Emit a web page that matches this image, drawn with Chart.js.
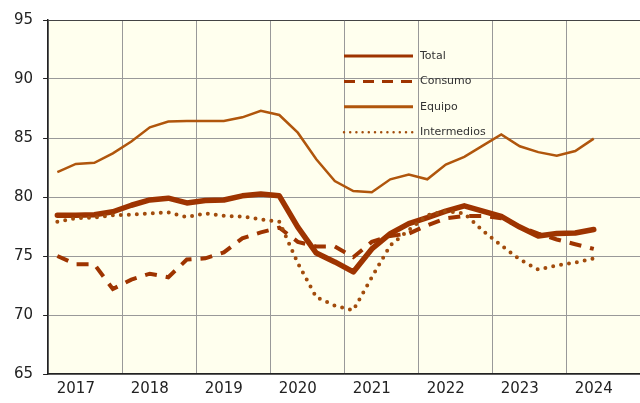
<!DOCTYPE html>
<html>
<head>
<meta charset="utf-8">
<script src="https://cdn.jsdelivr.net/npm/chart.js@4"></script>
<style>
  body { margin: 0; background: #fff; }
  #wrap { width: 640px; height: 403px; }
</style>
</head>
<body>
<div id="wrap"><canvas id="grafico"></canvas></div>
<script>
// quarters 2017-I .. 2024-IV, data runs to 2024-II
var years = ["2017", "2018", "2019", "2020", "2021", "2022", "2023", "2024"];
var quarters = [];
years.forEach(function (y) { ["I", "II", "III", "IV"].forEach(function (q) { quarters.push(y + "-" + q); }); });

var total = [78.45, 78.45, 78.5, 78.75, 79.3, 79.75, 79.9, 79.5, 79.7, 79.75, 80.1, 80.25, 80.1, 77.45, 75.25,
  74.5, 73.65, 75.6, 76.9, 77.75, 78.25, 78.8, 79.25, 78.8, 78.35, 77.45, 76.7, 76.9, 76.95, 77.25];
var consumo = [75.0, 74.3, 74.3, 72.2, 73.0, 73.5, 73.2, 74.7, 74.8, 75.3, 76.5, 77.0, 77.4, 76.2, 75.8,
  75.8, 74.9, 76.2, 76.7, 76.9, 77.6, 78.2, 78.4, 78.4, 78.2, 77.5, 76.9, 76.4, 76.0, 75.6];
var equipo = [82.1, 82.8, 82.9, 83.7, 84.7, 85.9, 86.4, 86.45, 86.45, 86.45, 86.75, 87.3, 86.95, 85.45, 83.2,
  81.35, 80.5, 80.4, 81.5, 81.9, 81.5, 82.75, 83.4, 84.35, 85.3, 84.3, 83.8, 83.5, 83.9, 84.95];
var intermedios = [77.9, 78.2, 78.25, 78.45, 78.5, 78.6, 78.7, 78.3, 78.6, 78.4, 78.35, 78.1, 77.9, 74.4, 71.5,
  70.8, 70.4, 73.2, 75.9, 77.2, 78.45, 78.8, 78.6, 77.15, 75.9, 74.7, 73.85, 74.2, 74.45, 74.8];

var rojo = "#9e3400";
var naranja = "#b0560c";
var marron = "#a24c0c";

// ivory plot background
var fondo = {
  id: "fondo",
  beforeDraw: function (chart) {
    var a = chart.chartArea, ctx = chart.ctx;
    ctx.save();
    ctx.fillStyle = "#ffffee";
    ctx.fillRect(a.left, a.top, a.right - a.left, a.bottom - a.top);
    ctx.restore();
  }
};

// legend drawn by hand, stacked inside the plot
var leyenda = {
  id: "leyenda",
  afterDatasetsDraw: function (chart) {
    var ctx = chart.ctx;
    var items = [
      { t: "Total", c: rojo, w: 3, d: [] },
      { t: "Consumo", c: rojo, w: 3, d: [11, 8] },
      { t: "Equipo", c: naranja, w: 3, d: [] },
      { t: "Intermedios", c: marron, w: 2.5, d: [0, 6.2] }
    ];
    ctx.save();
    items.forEach(function (it, i) {
      var y = 56 + i * 25.4;
      ctx.beginPath();
      ctx.strokeStyle = it.c;
      ctx.lineWidth = it.w;
      ctx.setLineDash(it.d);
      ctx.lineCap = it.d.length && it.d[0] === 0 ? "round" : "butt";
      ctx.moveTo(344, y);
      ctx.lineTo(413, y);
      ctx.stroke();
      ctx.setLineDash([]);
      ctx.fillStyle = "#333";
      ctx.font = "11px 'DejaVu Sans'";
      ctx.textBaseline = "middle";
      ctx.fillText(it.t, 420, y);
    });
    ctx.restore();
  }
};

new Chart(document.getElementById("grafico"), {
  type: "line",
  data: {
    labels: quarters,
    datasets: [
      { label: "Intermedios", data: intermedios, borderColor: marron, borderWidth: 4,
        borderDash: [0, 8], borderCapStyle: "round", pointRadius: 0, tension: 0 },
      { label: "Equipo", data: equipo, borderColor: naranja, borderWidth: 2.5, pointRadius: 0, tension: 0 },
      { label: "Consumo", data: consumo, borderColor: rojo, borderWidth: 4,
        borderDash: [12, 9], pointRadius: 0, tension: 0 },
      { label: "Total", data: total, borderColor: rojo, borderWidth: 5.5, borderJoinStyle: "round",
        borderCapStyle: "round", pointRadius: 0, tension: 0 }
    ]
  },
  options: {
    responsive: true,
    maintainAspectRatio: false,
    animation: false,
    layout: { padding: { top: 20, right: 0, left: 4, bottom: -2 } },
    plugins: { legend: { display: false }, tooltip: { enabled: false } },
    scales: {
      x: {
        offset: true,
        grid: {
          offset: true,
          drawTicks: false,
          color: function (c) { return c.index % 4 === 0 ? "#999" : "rgba(0,0,0,0)"; }
        },
        border: { color: "#222", width: 1.5 },
        ticks: {
          autoSkip: false, maxRotation: 0, padding: 8,
          color: "#222", font: { family: "DejaVu Sans", size: 15, lineHeight: 1 },
          callback: function (v, i) { return i % 4 === 1 ? quarters[i].slice(0, 4) : ""; }
        }
      },
      y: {
        min: 65, max: 95,
        grid: {
          color: function (c) { return c.tick && c.tick.value === 95 ? "#444" : "#999"; },
          tickLength: 5, tickColor: "#222"
        },
        border: { color: "#222", width: 1.5 },
        ticks: { stepSize: 5, padding: 10, color: "#222", font: { family: "DejaVu Sans", size: 15 } }
      }
    }
  },
  plugins: [fondo, leyenda]
});
</script>
</body>
</html>
